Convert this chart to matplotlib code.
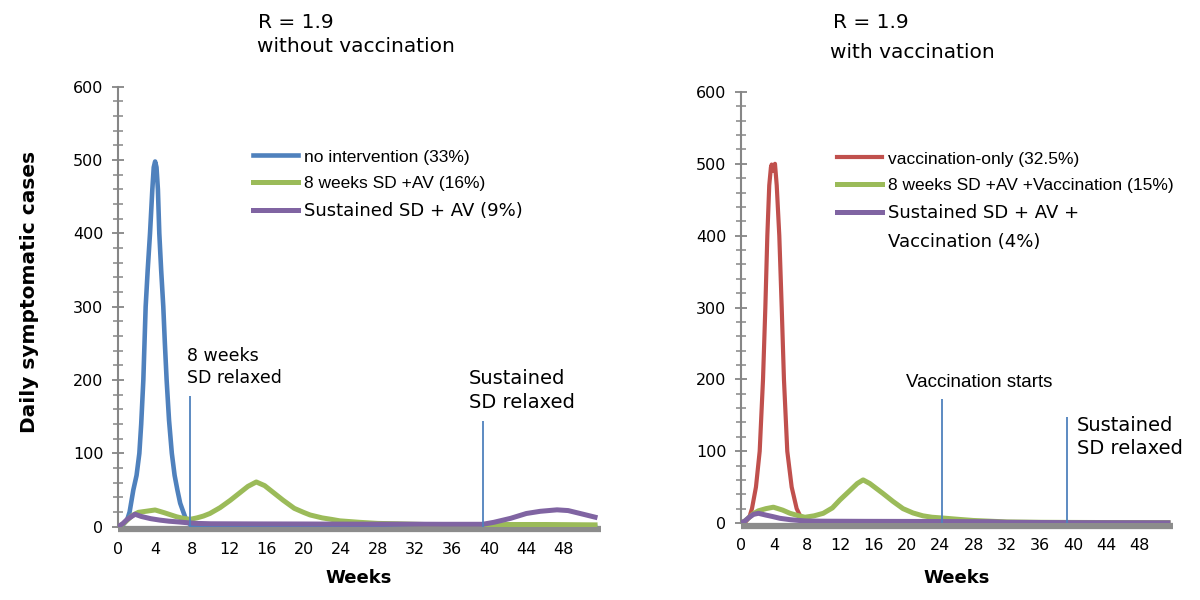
import matplotlib.pyplot as plt
from matplotlib.lines import Line2D
from matplotlib.ticker import MultipleLocator

plt.rcParams['font.family'] = 'DejaVu Sans'
NARROW = ['Liberation Sans', 'DejaVu Sans']

# ---- left panel: R = 1.9 without vaccination ----
noint_wk = [0, 0.5, 1.0, 1.25, 1.65, 2.0, 2.3, 2.5, 2.73, 2.98, 3.2, 3.45, 3.7, 3.85, 4.0,
            4.15, 4.3, 4.45, 4.65, 4.88, 5.05, 5.24, 5.5, 5.8, 6.1, 6.4, 6.7, 7.04, 7.3, 7.6,
            8.0, 9.0, 51.4]
noint_val = [0, 2, 10, 20, 50, 70, 100, 140, 200, 300, 350, 400, 460, 490, 498,
             490, 460, 400, 350, 300, 250, 200, 145, 100, 70, 50, 32, 20, 11, 5,
             1, 0, 0]

sd8_wk = [0, 0.5, 1, 1.5, 2.2, 3, 4, 5, 6.3, 7, 7.76, 8.5, 9.2, 9.9, 11, 12.1, 13, 14, 14.9,
          15.8, 16.8, 17.8, 19, 20, 20.7, 22, 23, 23.9, 26, 28, 30, 33, 36, 39, 42, 46, 51.4]
sd8_val = [0, 3, 9, 15, 19.6, 21, 22.8, 19, 13.6, 11.5, 10, 12, 14.5, 18, 26, 36, 45, 55, 61,
           56, 46, 36, 25, 19.5, 16, 12, 10, 8, 6, 4.5, 4, 3, 2.5, 2, 3, 3, 2.5]

sust_wk = [0, 0.5, 1, 1.83, 2.5, 3.5, 4.5, 5.5, 6.5, 7.4, 8.5, 10, 15, 20, 25, 30, 35, 39.3,
           40.5, 42.3, 44, 45.5, 47.3, 48.5, 49.8, 51.4]
sust_val = [0, 4, 10, 17, 14, 11, 9, 7.5, 6.5, 5.5, 4.5, 4, 3.8, 3.7, 3.5, 3.5, 3.3, 3.3,
            6, 11.4, 18, 21, 23, 22, 18, 13]

# ---- right panel: R = 1.9 with vaccination ----
vac_wk = [0, 0.5, 1.0, 1.32, 1.8, 2.25, 2.65, 2.93, 3.17, 3.4, 3.6, 3.69, 3.85, 4.0, 4.09,
          4.3, 4.61, 4.9, 5.17, 5.57, 6.1, 6.7, 7.2, 7.9, 9, 51.4]
vac_val = [0, 1, 8, 20, 50, 100, 200, 300, 400, 470, 495, 499, 490, 497, 500,
           470, 400, 300, 200, 100, 50, 20, 8, 1, 0, 0]

sd8v_wk = [0, 0.5, 1, 1.5, 2.1, 3, 3.9, 5, 5.9, 6.8, 7.7, 8.8, 9.9, 11, 11.9, 13, 14, 14.7,
           15.5, 16.3, 17.1, 18.3, 19.5, 20.7, 21.9, 23, 24.2, 26.3, 28, 30, 32, 36, 40, 45, 51.4]
sd8v_val = [0, 3, 8, 13, 17, 20, 22, 18, 13.5, 10.5, 8, 10, 13.5, 21, 32, 44, 55, 60,
            55, 48, 41, 30, 20, 14, 10, 8, 7, 5, 3.5, 2.5, 1.5, 1, 0.8, 0.6, 0.5]

sustv_wk = [0, 0.5, 1, 1.5, 2.1, 3, 3.8, 4.7, 6, 7, 7.9, 10, 15, 20, 25, 30, 32, 36, 40, 45, 51.4]
sustv_val = [0, 3, 8, 12, 13.5, 11, 9, 6.5, 4.5, 3.5, 2.8, 2.5, 2.3, 2.2, 2, 1.8, 1, 0.7, 0.5,
             0.4, 0.3]

left_labels = ['no intervention (33%)', '8 weeks SD +AV (16%)', 'Sustained SD + AV (9%)']
right_labels = ['vaccination-only (32.5%)', '8 weeks SD +AV +Vaccination (15%)',
                'Sustained SD + AV +', 'Vaccination (4%)']

left_marks = [7.75, 39.3]
left_mark_tops = [178, 144]
right_marks = [24.2, 39.2]
right_mark_tops = [172, 147]

BLUE, RED, GREEN, PURPLE = '#4F81BD', '#C0504D', '#9BBB59', '#8064A2'
AXGRAY = '#868686'

fig = plt.figure(figsize=(12, 6), dpi=100)
axL = fig.add_axes([118 / 1200, 1 - 526.7 / 600, 482.6 / 1200, 440 / 600])
axR = fig.add_axes([741 / 1200, 1 - 523 / 600, 432 / 1200, 431 / 600])


def style_axes(ax):
    ax.set_xlim(0, 52)
    ax.set_ylim(0, 600)
    ax.set_xticks(range(0, 49, 4))
    ax.yaxis.set_major_locator(MultipleLocator(100))
    ax.yaxis.set_minor_locator(MultipleLocator(20))
    for s in ['top', 'right']:
        ax.spines[s].set_visible(False)
    ax.spines['left'].set_color(AXGRAY)
    ax.spines['left'].set_linewidth(1.5)
    ax.spines['bottom'].set_color('#8c8c8c')
    ax.spines['bottom'].set_linewidth(4.5)
    ax.spines['bottom'].set_position(('outward', 2))
    ax.spines['bottom'].set_capstyle('butt')
    ax.tick_params(axis='y', which='major', direction='inout', length=9, width=1.3,
                   color=AXGRAY, pad=6, labelsize=11.5)
    ax.tick_params(axis='y', which='minor', direction='inout', length=7, width=1.1,
                   color=AXGRAY)
    ax.tick_params(axis='x', length=0, pad=9, labelsize=11.5)


def draw_legend(ax, handles, labels, fonts, sizes, x, y):
    leg = ax.legend(handles, labels, loc='upper left', bbox_to_anchor=(x / 1200, 1 - y / 600),
                    bbox_transform=fig.transFigure, frameon=False, fontsize=13,
                    handlelength=2.5, handletextpad=0.3, labelspacing=0.6,
                    borderpad=0, borderaxespad=0)
    for t, f, s in zip(leg.get_texts(), fonts, sizes):
        t.set_fontfamily(f)
        t.set_fontsize(s)
    return leg


# left
style_axes(axL)
l1, = axL.plot(noint_wk, noint_val, color=BLUE, lw=3.3, zorder=3)
l2, = axL.plot(sd8_wk, sd8_val, color=GREEN, lw=3.6, zorder=3)
l3, = axL.plot(sust_wk, sust_val, color=PURPLE, lw=3.6, zorder=3)
axL.vlines(left_marks, 0, left_mark_tops, color=BLUE, lw=1.3, zorder=4)
axL.text(7.4, 218, '8 weeks\nSD relaxed', fontsize=12.5, va='center', ha='left',
         linespacing=1.3)
axL.text(37.8, 186, 'Sustained\nSD relaxed', fontsize=14, va='center', ha='left',
         linespacing=1.3)
draw_legend(axL, [l1, l2, l3], left_labels, [NARROW, NARROW, 'DejaVu Sans'],
            [12.5, 12.5, 13], 253, 149)

# right
style_axes(axR)
r1, = axR.plot(vac_wk, vac_val, color=RED, lw=3.0, zorder=3)
r2, = axR.plot(sd8v_wk, sd8v_val, color=GREEN, lw=3.6, zorder=3)
r3, = axR.plot(sustv_wk, sustv_val, color=PURPLE, lw=3.6, zorder=3)
axR.vlines(right_marks, 0, right_mark_tops, color=BLUE, lw=1.3, zorder=4)
axR.text(19.9, 195, 'Vaccination starts', fontsize=13.5, va='center', ha='left',
         family=NARROW)
axR.text(40.4, 120, 'Sustained\nSD relaxed', fontsize=14, va='center', ha='left',
         linespacing=1.3)
blank = Line2D([], [], color='none')
draw_legend(axR, [r1, r2, r3, blank], right_labels,
            [NARROW, NARROW, 'DejaVu Sans', 'DejaVu Sans'], [12.5, 12.5, 13, 13], 837, 151)

# titles and axis labels
fig.text(258 / 1200, 1 - 23 / 600, 'R = 1.9', fontsize=14.5, va='center')
fig.text(257 / 1200, 1 - 47 / 600, 'without vaccination', fontsize=14.5, va='center')
fig.text(833 / 1200, 1 - 23 / 600, 'R = 1.9', fontsize=14.5, va='center')
fig.text(830 / 1200, 1 - 52 / 600, 'with vaccination', fontsize=14.5, va='center')
fig.text(30 / 1200, 1 - 292 / 600, 'Daily symptomatic cases', fontsize=14.5,
         fontweight='bold', rotation=90, ha='center', va='center')
fig.text(359 / 1200, 1 - 578 / 600, 'Weeks', fontsize=13, fontweight='bold',
         ha='center', va='center')
fig.text(957 / 1200, 1 - 578 / 600, 'Weeks', fontsize=13, fontweight='bold',
         ha='center', va='center')

fig.savefig('out.png', dpi=100, facecolor='white')
